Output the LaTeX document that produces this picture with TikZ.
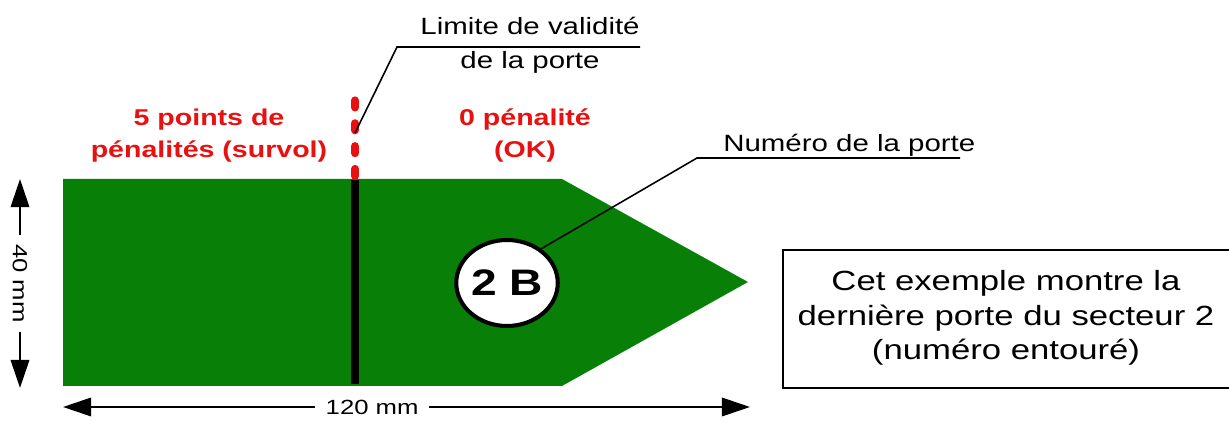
\documentclass[tikz,border=0pt]{standalone}
\usepackage{fontspec}
\setmainfont{Liberation Sans}[FakeStretch=1.25]
\usetikzlibrary{arrows.meta,shapes.geometric}
\definecolor{gatezone}{RGB}{8,128,8}
\definecolor{penred}{RGB}{232,16,16}
\tikzset{
  dimline/.style={draw=black,line width=1.2pt,{Triangle[length=16pt,width=10.5pt]}-{Triangle[length=16pt,width=10.5pt]}},
  lead/.style={draw=black,line width=0.9pt},
  redlbl/.style={text=penred,font=\fontsize{13}{18.5}\selectfont\bfseries,align=center,inner sep=0pt},
  blklbl/.style={font=\fontsize{13.4}{16}\selectfont,inner sep=0pt},
}
\begin{document}
\begin{tikzpicture}[x=0.02cm,y=-0.02cm]
\useasboundingbox (0,0) rectangle (1229,421);
% zone verte
\fill[gatezone] (63,179) -- (562,179) -- (748,282) -- (562,386) -- (63,386) -- cycle;
% porte
\draw[black,line width=4.5pt] (355,180) -- (355,384);
\draw[penred,line width=4.6pt,line cap=round,dash pattern=on 4pt off 9pt] (355,176) -- (355,92);
% textes rouges
\node[redlbl,anchor=base] (fivept) at (209,158) {5 points de\\pénalités (survol)};
\node[redlbl,anchor=base] (zeropt) at (525,158) {0 pénalité\\(OK)};
% numero
\node[ellipse,draw=black,fill=white,line width=2.3pt,minimum width=2cm,minimum height=1.72cm,inner sep=0pt,
  font=\fontsize{21}{24}\selectfont\bfseries] (num) at (507,283) {2 B};
% legendes
\node[blklbl,anchor=base east] (limA) at (640,35) {Limite de validité};
\node[blklbl,anchor=base] (limB) at (530,69) {de la porte};
\coordinate (limK) at (397,47);
\coordinate (limE) at (640,47);
\coordinate (limS) at (355,133);
\draw[lead] (limS) -- (limK) -- (limE);
\node[blklbl,anchor=base west] (numtxt) at (723,152) {Numéro de la porte};
\coordinate (numK) at (697,158);
\coordinate (numE) at (960,158);
\draw[lead] (num.45) -- (numK) -- (numE);
% cotes
\coordinate (dT) at (20,179);
\coordinate (dB) at (20,388);
\draw[dimline] (dT) -- (dB) node[midway,fill=white,rotate=-90,inner xsep=5pt,font=\fontsize{11.7}{14}\selectfont] (h40) {40 mm};
\coordinate (dL) at (63,407);
\coordinate (dR) at (750,407);
\draw[dimline] (dL) -- (dR) node[pos=0.45,fill=white,inner xsep=6pt,font=\fontsize{11.7}{14}\selectfont] (w120) {120 mm};
% encadre
\node[align=center,font=\fontsize{15.8}{19.8}\selectfont,inner sep=0pt] (note) at (1006,318)
  {Cet exemple montre la\\dernière porte du secteur 2\\(numéro entouré)};
\draw[black,line width=1pt] (1229,250) -- (783,250) -- (783,388) -- (1229,388);
\end{tikzpicture}
\end{document}
